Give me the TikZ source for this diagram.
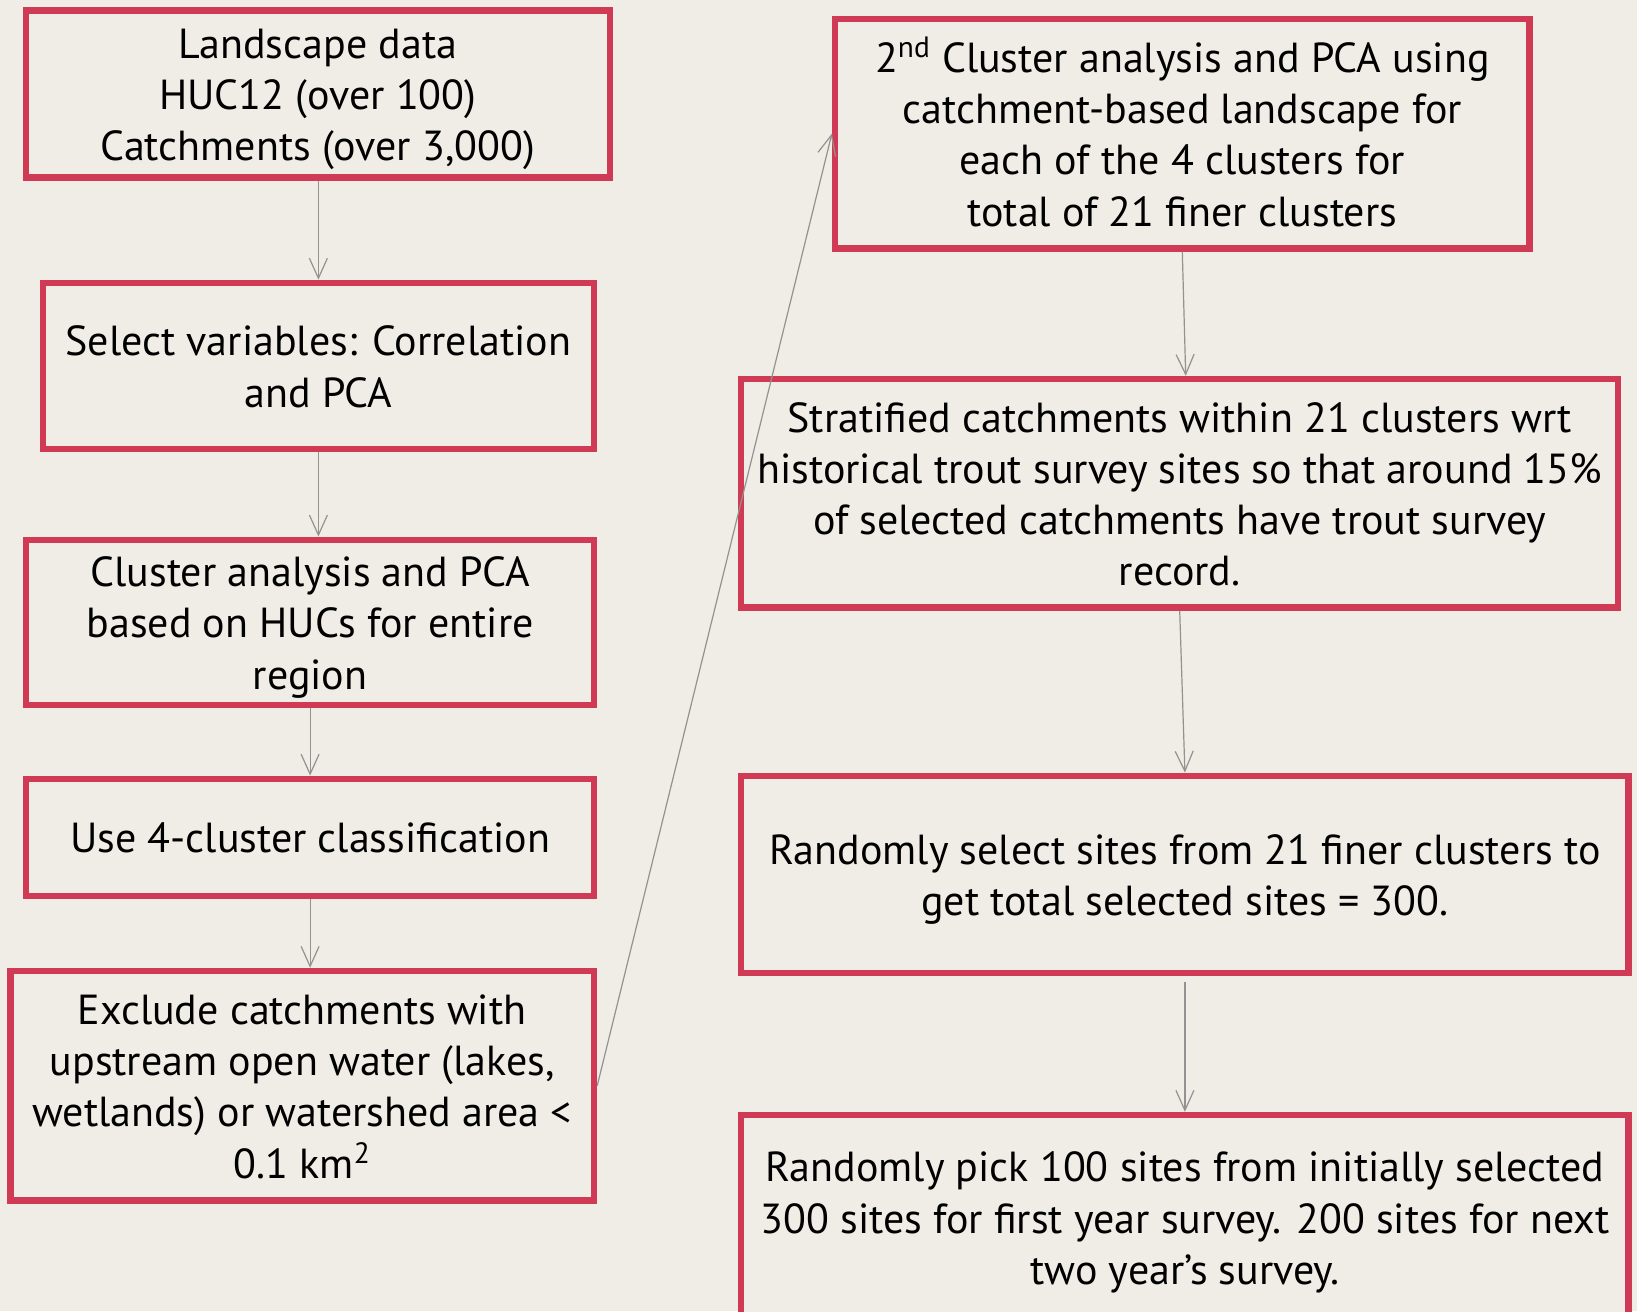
\documentclass[tikz,border=0pt]{standalone}
\usepackage{fontspec}
\setmainfont{PT Sans}
\usetikzlibrary{arrows.meta}
\definecolor{bg}{HTML}{EFEDE5}
\definecolor{boxred}{HTML}{D03A55}
\definecolor{arrowgray}{HTML}{929292}
\newcommand\boxlines[1]{\vbox{\kern5.4pt\hbox{\begin{tabular}{@{}c@{}}#1\end{tabular}}}}
\tikzset{
  box/.style={draw=boxred, line width=3.2pt, fill=bg, inner sep=0pt,
    font=\fontsize{21}{25.6}\selectfont},
  conn/.style={draw=arrowgray, line width=0.6pt, -{Straight Barb[length=10pt,width=9pt,line width=0.6pt]}}
}
\begin{document}
\begin{tikzpicture}[x=0.5pt,y=-0.5pt]
\fill[bg] (0,0) rectangle (1637,1311);
\useasboundingbox (0,0) rectangle (1637,1311);
\node[box, minimum width=291.8pt, minimum height=83.5pt] (b1) at (317.9,94.0)
  {\boxlines{Landscape data\\HUC12 (over 100)\\Catchments (over 3,000)}};
\node[box, minimum width=275.6pt, minimum height=83pt] (b2) at (318.4,365.9)
  {\boxlines{Select variables: Correlation\\and PCA}};
\node[box, minimum width=284pt, minimum height=82.5pt] (b3) at (310.1,622.2)
  {\boxlines{Cluster analysis and PCA\\based on HUCs for entire\\region}};
\node[box, minimum width=284pt, minimum height=58.5pt] (b4) at (310.1,837.3)
  {\boxlines{Use 4-cluster classification}};
\node[box, minimum width=291.8pt, minimum height=114.8pt] (b5) at (302.2,1085.8)
  {\boxlines{Exclude catchments with\\upstream open water (lakes,\\wetlands) or watershed area <\\0.1 km\textsuperscript{2}}};
\node[box, minimum width=347.2pt, minimum height=114.8pt] (r1) at (1182.3,133.6)
  {\boxlines{2\textsuperscript{nd} Cluster analysis and PCA using\\catchment-based landscape for\\each of the 4 clusters for\\total of 21 finer clusters}};
\node[box, minimum width=438.5pt, minimum height=114.3pt] (r2) at (1179.7,493.3)
  {\boxlines{Stratified catchments within 21 clusters wrt\\historical trout survey sites so that around 15\%\\of selected catchments have trout survey\\record.}};
\node[box, minimum width=443.7pt, minimum height=98.6pt] (r3) at (1184.9,874.4)
  {\boxlines{Randomly select sites from 21 finer clusters to\\get total selected sites = 300.}};
\node[box, minimum width=443.7pt, minimum height=102.5pt] (r4) at (1184.9,1217.5)
  {\boxlines{Randomly pick 100 sites from initially selected\\300 sites for first year survey. 200 sites for next\\two year’s survey.}};
\draw[conn] (b2.north |- b1.south) -- (b2.north);
\draw[conn] (b2.south) -- (b2.south |- b3.north);
\draw[conn] (b3.south) -- (b4.north);
\draw[conn] (b4.south) -- (b4.south |- b5.north);
\draw[conn] (b5.east) -- (r1.west);
\draw[conn] (r1.south) -- ([xshift=3pt]r2.north);
\draw[conn] (r2.south) -- (r3.north);
\draw[conn] ([yshift=-3pt]r3.south) -- (r4.north);
\end{tikzpicture}
\end{document}
